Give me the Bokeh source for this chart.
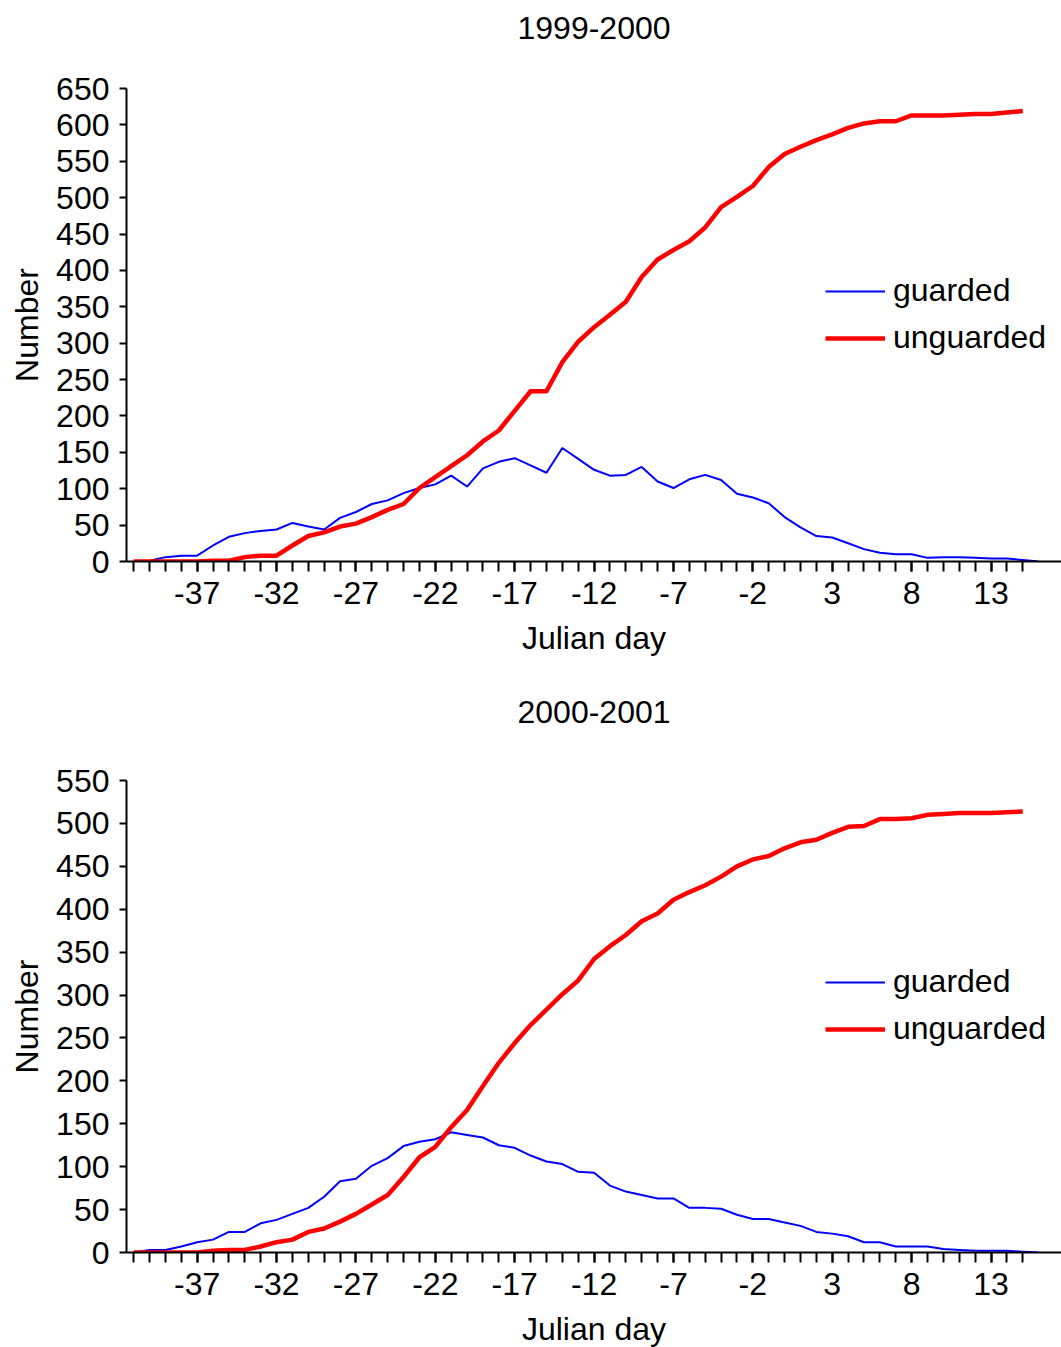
from bokeh.plotting import figure
from bokeh.layouts import column
from bokeh.models import FixedTicker, Legend, LegendItem, Range1d, Title
from bokeh.embed import file_html
from bokeh.resources import INLINE

# ---------------- data ----------------
days_guarded = list(range(-41, 17))
days_unguarded = list(range(-41, 16))
x_tick_labels = [-37, -32, -27, -22, -17, -12, -7, -2, 3, 8, 13]
x_minor_ticks = list(range(-41, 16))

titles = ["1999-2000", "2000-2001"]

guarded_1999 = [0, 1, 6, 8, 8, 22, 34, 39, 42, 44, 53, 48, 44, 60, 68, 79, 84, 94, 101, 106,
                118, 103, 128, 137, 142, 132, 122, 156, 141, 126, 118, 119, 130, 110, 101, 113,
                119, 112, 93, 88, 80, 61, 47, 35, 33, 25, 17, 12, 10, 10, 5, 6, 6, 5, 4, 4, 2, 0]
unguarded_1999 = [0, 0, 0, 0, 0, 1, 1, 6, 8, 8, 22, 35, 40, 48, 52, 61, 71, 79, 101, 116,
                  131, 146, 165, 180, 207, 234, 234, 274, 302, 322, 339, 357, 391, 415, 428, 440,
                  459, 487, 501, 516, 542, 560, 570, 579, 587, 596, 602, 605, 605, 613, 613, 613,
                  614, 615, 615, 617, 619]

guarded_2000 = [0, 3, 3, 7, 12, 15, 24, 24, 34, 38, 45, 52, 65, 83, 86, 101, 110, 124, 129, 132,
                140, 137, 134, 125, 122, 113, 106, 103, 94, 93, 78, 71, 67, 63, 63, 52, 52, 51,
                44, 39, 39, 35, 31, 24, 22, 19, 12, 12, 7, 7, 7, 4, 3, 2, 2, 2, 1, 0]
unguarded_2000 = [0, 0, 0, 0, 0, 2, 3, 3, 7, 12, 15, 24, 28, 36, 45, 56, 67, 88, 111, 123,
                  146, 166, 194, 221, 244, 265, 283, 301, 317, 342, 357, 370, 386, 395, 411, 420,
                  428, 438, 450, 458, 462, 471, 478, 481, 489, 496, 497, 505, 505, 506, 510, 511,
                  512, 512, 512, 513, 514]

y_max = [650, 550]
series_labels = ["guarded", "unguarded"]

FONT = "Liberation Sans"
FS = "32px"


def make_panel(title, guarded, unguarded, ymax, frame_h, top_border, bottom_border, title_gap):
    p = figure(frame_width=935, frame_height=frame_h,
               x_range=Range1d(-41.45, 17.44), y_range=Range1d(0, ymax),
               output_backend="svg", toolbar_location=None,
               min_border_left=126, min_border_right=0,
               min_border_top=top_border, min_border_bottom=bottom_border)
    p.outline_line_color = None
    p.xgrid.visible = False
    p.ygrid.visible = False
    p.background_fill_color = "white"
    p.border_fill_color = "white"

    # spacer between frame and title (first item above = nearest the frame)
    p.add_layout(Title(text=" ", text_font_size="1px", standoff=title_gap), "above")
    p.add_layout(Title(text=title, align="center", text_font=FONT, text_font_size=FS,
                       text_font_style="normal", text_color="black", standoff=0), "above")

    # x axis
    xa = p.below[0]
    xa.ticker = FixedTicker(ticks=x_tick_labels, minor_ticks=x_minor_ticks)
    xa.major_label_overrides = {v: str(v) for v in x_tick_labels}
    xa.axis_label = "Julian day"
    xa.axis_label_text_font = FONT
    xa.axis_label_text_font_size = FS
    xa.axis_label_text_font_style = "normal"
    xa.axis_label_text_color = "black"
    xa.axis_label_standoff = 13
    xa.major_label_text_font = FONT
    xa.major_label_text_font_size = FS
    xa.major_label_text_color = "black"
    xa.major_label_standoff = 10
    xa.axis_line_width = 2
    xa.axis_line_color = "black"
    xa.major_tick_out = 10
    xa.major_tick_in = 0
    xa.minor_tick_out = 10
    xa.minor_tick_in = 0
    xa.major_tick_line_width = 2
    xa.minor_tick_line_width = 2
    xa.major_tick_line_color = "black"
    xa.minor_tick_line_color = "black"

    # y axis
    ya = p.left[0]
    ya.ticker = FixedTicker(ticks=list(range(0, ymax + 1, 50)), minor_ticks=[])
    ya.axis_label = "Number"
    ya.axis_label_text_font = FONT
    ya.axis_label_text_font_size = FS
    ya.axis_label_text_font_style = "normal"
    ya.axis_label_text_color = "black"
    ya.axis_label_standoff = 8
    ya.major_label_text_font = FONT
    ya.major_label_text_font_size = FS
    ya.major_label_text_color = "black"
    ya.major_label_standoff = 10
    ya.axis_line_width = 2
    ya.axis_line_color = "black"
    ya.major_tick_out = 7
    ya.major_tick_in = 0
    ya.minor_tick_out = 0
    ya.minor_tick_in = 0
    ya.major_tick_line_width = 2
    ya.major_tick_line_color = "black"

    rb = p.line(days_guarded, guarded, line_color="#0000ff", line_width=2)
    rr = p.line(days_unguarded, unguarded, line_color="#ff0000", line_width=4.5,
                line_join="round")

    legend = Legend(items=[LegendItem(label=series_labels[0], renderers=[rb]),
                           LegendItem(label=series_labels[1], renderers=[rr])],
                    location=(699, 205))
    legend.border_line_color = None
    legend.background_fill_alpha = 0
    legend.label_text_font = FONT
    legend.label_text_font_size = FS
    legend.label_text_color = "black"
    legend.glyph_width = 60
    legend.glyph_height = 36
    legend.label_height = 36
    legend.spacing = 10
    legend.padding = 0
    legend.margin = 0
    legend.label_standoff = 8
    p.add_layout(legend)
    return p


p1 = make_panel(titles[0], guarded_1999, unguarded_1999, y_max[0], 473, 88, 109, 47)
p2 = make_panel(titles[1], guarded_2000, unguarded_2000, y_max[1], 472, 110, 90, 55)

layout = column(p1, p2, spacing=0)
open("out.html", "w").write(file_html(layout, INLINE))
